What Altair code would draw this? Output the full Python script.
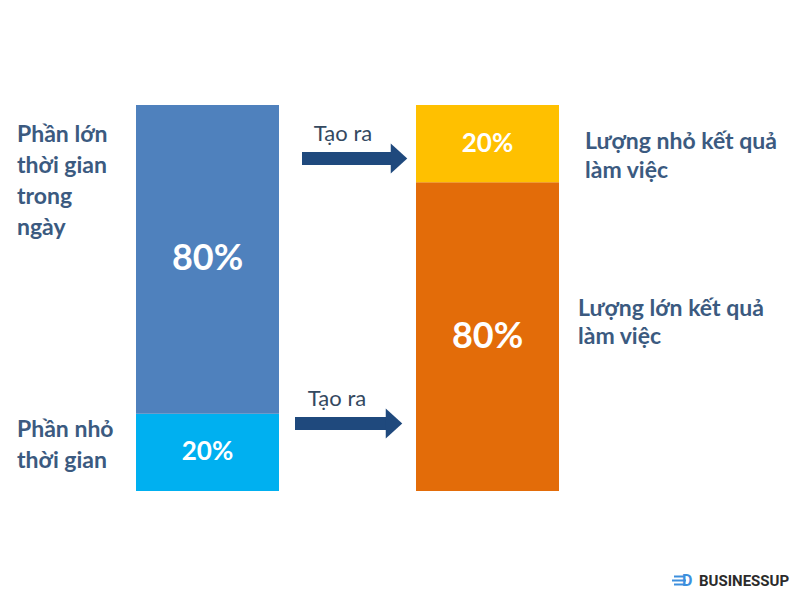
import altair as alt
import pandas as pd

# ---------------- data ----------------
time_labels = ["Phần nhỏ thời gian", "Phần lớn thời gian trong ngày"]
time_share = [20, 80]
time_colors = ["#00B0F0", "#4F81BD"]

result_labels = ["Lượng lớn kết quả làm việc", "Lượng nhỏ kết quả làm việc"]
result_share = [80, 20]
result_colors = ["#E36C09", "#FFC000"]

left_label_lines = [["Phần nhỏ", "thời gian"], ["Phần lớn", "thời gian", "trong", "ngày"]]
right_label_lines = [["Lượng lớn kết quả", "làm việc"], ["Lượng nhỏ kết quả", "làm việc"]]
arrow_text = ["Tạo ra", "Tạo ra"]
brand = "BUSINESSUP"

# ---------------- layout (page pixels) ----------------
W, H = 784, 584
BAR_X = {"time": (136, 279), "result": (416, 559)}
BAR_Y_PX = (491, 105)  # page y of 0% and 100%

# percent scale so that 0% -> 491px and 100% -> 105px
px_per_pct = (BAR_Y_PX[0] - BAR_Y_PX[1]) / 100.0
span = H / px_per_pct
dmin = -((8 + H) - BAR_Y_PX[0]) / px_per_pct
pct_scale = alt.Scale(domain=[dmin, dmin + span], nice=False, zero=False)
x_scale = alt.Scale(domain=[8, 8 + W], nice=False, zero=False)
py_scale = alt.Scale(domain=[8 + H, 8], nice=False, zero=False)  # page-pixel y

rows = []
for col, labels, shares, colors in [
    ("time", time_labels, time_share, time_colors),
    ("result", result_labels, result_share, result_colors),
]:
    start = 0
    for lab, v, c in zip(labels, shares, colors):
        rows.append(
            dict(
                col=col, name=lab, value=v, start=start, end=start + v,
                mid=start + v / 2, color=c, pct=f"{v}%",
                x0=BAR_X[col][0], x1=BAR_X[col][1],
                xc=(BAR_X[col][0] + BAR_X[col][1]) / 2,
                fs=36 if v >= 50 else 26,
            )
        )
        start += v
bars_df = pd.DataFrame(rows)

bars = alt.Chart(bars_df).mark_rect().encode(
    x=alt.X("x0:Q", scale=x_scale, axis=None),
    x2="x1:Q",
    y=alt.Y("start:Q", scale=pct_scale, axis=None),
    y2="end:Q",
    color=alt.Color("color:N", scale=None),
)

pct_text = alt.Chart(bars_df).mark_text(
    font="Lato", fontWeight="bold", color="white", baseline="middle", align="center"
).encode(
    x=alt.X("xc:Q", scale=x_scale, axis=None),
    y=alt.Y("mid:Q", scale=pct_scale, axis=None),
    text="pct:N",
    size=alt.Size("fs:Q", scale=None, legend=None),
)

# side labels
lab_df = pd.DataFrame(
    dict(
        lines=left_label_lines + right_label_lines,
        x=[17, 17, 578, 585],
        y=[437, 142, 316, 149],
        lh=[31, 31, 28, 29],
    )
)
side_labels = []
for _, r in lab_df.iterrows():
    side_labels.append(
        alt.Chart(pd.DataFrame({"x": [r.x], "y": [r.y]})).mark_text(
            font="Lato", fontWeight="bold", fontSize=23, color="#3B5A80",
            align="left", baseline="alphabetic", lineHeight=r.lh,
        ).encode(
            x=alt.X("x:Q", scale=x_scale, axis=None),
            y=alt.Y("y:Q", scale=py_scale, axis=None),
            text=alt.value(list(r.lines)),
        )
    )

# arrows
arrow_df = pd.DataFrame(
    dict(
        txt=arrow_text,
        tx=[343, 337], ty=[141, 406], tfs=[22, 22],
        sx0=[302, 295], sx1=[392, 387], sy=[158.5, 423.5],
        hx=[399, 394],
    )
)
shafts = alt.Chart(arrow_df).mark_rule(color="#1F497D", strokeWidth=13, strokeCap="butt").encode(
    x=alt.X("sx0:Q", scale=x_scale, axis=None),
    x2="sx1:Q",
    y=alt.Y("sy:Q", scale=py_scale, axis=None),
)
heads = alt.Chart(arrow_df).mark_point(
    shape="M-0.55,-1L0.55,0L-0.55,1Z", filled=True, color="#1F497D", opacity=1, size=900, strokeWidth=0
).encode(
    x=alt.X("hx:Q", scale=x_scale, axis=None),
    y=alt.Y("sy:Q", scale=py_scale, axis=None),
)
arrow_labels = alt.Chart(arrow_df).mark_text(
    font="Lato", color="#34495F", align="center", baseline="alphabetic"
).encode(
    x=alt.X("tx:Q", scale=x_scale, axis=None),
    y=alt.Y("ty:Q", scale=py_scale, axis=None),
    text="txt:N",
    size=alt.Size("tfs:Q", scale=None, legend=None),
)

# brand logo
brand_text = alt.Chart(pd.DataFrame({"x": [699], "y": [586], "t": [brand]})).mark_text(
    font="Roboto", fontWeight="bold", fontSize=15, color="#2B2B2B", align="left", baseline="alphabetic"
).encode(
    x=alt.X("x:Q", scale=x_scale, axis=None),
    y=alt.Y("y:Q", scale=py_scale, axis=None),
    text="t:N",
)
brand_icon = alt.Chart(pd.DataFrame({"x": [682], "y": [586], "t": ["D"]})).mark_text(
    font="Roboto", fontWeight="bold", fontSize=16, color="#3D8FDD", align="left", baseline="alphabetic"
).encode(
    x=alt.X("x:Q", scale=x_scale, axis=None),
    y=alt.Y("y:Q", scale=py_scale, axis=None),
    text="t:N",
)
icon_dash = alt.Chart(pd.DataFrame({"x0": [674, 672, 674], "x1": [684, 686, 684], "y": [576.5, 580.5, 584.5]})).mark_rule(
    color="#3D8FDD", strokeWidth=2
).encode(
    x=alt.X("x0:Q", scale=x_scale, axis=None),
    x2="x1:Q",
    y=alt.Y("y:Q", scale=py_scale, axis=None),
)

chart = (
    alt.layer(bars, pct_text, *side_labels, shafts, heads, arrow_labels, icon_dash, brand_icon, brand_text)
    .resolve_scale(y="independent")
    .properties(width=W, height=H, padding=0, autosize=alt.AutoSizeParams(type="none"), background="white")
    .configure_view(stroke=None)
)

chart.save("out.html", embed_options={"renderer": "svg", "actions": False})
